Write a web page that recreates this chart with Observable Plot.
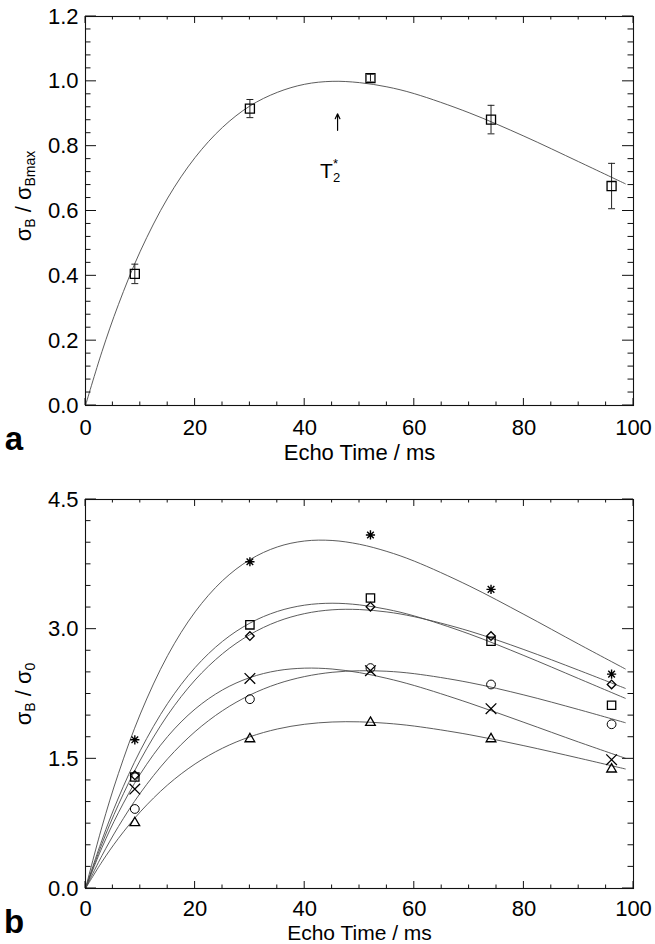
<!DOCTYPE html>
<html>
<head>
<meta charset="utf-8">
<script src="https://cdn.jsdelivr.net/npm/d3@7"></script>
<script src="https://cdn.jsdelivr.net/npm/@observablehq/plot@0.6"></script>
<style>
  html, body { margin: 0; padding: 0; background: white; }
  #chart svg { display: block; }
</style>
</head>
<body>
<div id="chart"></div>
<script>
// ---------- data ----------
const echoTimes = [9, 30, 52, 74, 96];

// panel a: normalised BOLD sigma with error bars
const aRatio = [0.406, 0.916, 1.010, 0.882, 0.677];
const aErr   = [0.030, 0.028, 0.012, 0.044, 0.070];

// fitted curves, sampled along echo time
const fitTE = [0, 3, 6, 10, 15, 20, 25, 30, 35, 40, 45, 50, 55, 60, 70, 80, 90, 98.5];
const aFit  = [0, 0.166, 0.311, 0.476, 0.640, 0.765, 0.858, 0.924, 0.966, 0.991, 1.000, 0.996, 0.983, 0.962, 0.903, 0.831, 0.752, 0.684];
const t2Star = 46;
const arrowSpan = [0.849, 0.900];

// panel b: six series
const bAsterisk = [1.72, 3.78, 4.09, 3.46, 2.48];
const bSquare   = [1.29, 3.05, 3.36, 2.86, 2.12];
const bDiamond  = [1.31, 2.92, 3.26, 2.92, 2.36];
const bTimes    = [1.15, 2.43, 2.52, 2.08, 1.49];
const bCircle   = [0.92, 2.19, 2.55, 2.36, 1.90];
const bTriangle = [0.76, 1.73, 1.92, 1.73, 1.38];

const fitAsterisk = [0, 0.713, 1.329, 2.019, 2.696, 3.200, 3.561, 3.804, 3.951, 4.020, 4.026, 3.982, 3.899, 3.787, 3.501, 3.171, 2.827, 2.540];
const fitSquare   = [0, 0.559, 1.047, 1.596, 2.142, 2.556, 2.859, 3.070, 3.205, 3.278, 3.300, 3.281, 3.230, 3.153, 2.945, 2.695, 2.428, 2.200];
const fitDiamond  = [0, 0.516, 0.969, 1.485, 2.007, 2.412, 2.716, 2.937, 3.088, 3.180, 3.224, 3.227, 3.199, 3.144, 2.979, 2.764, 2.525, 2.315];
const fitTimesC   = [0, 0.472, 0.876, 1.325, 1.759, 2.076, 2.297, 2.440, 2.520, 2.549, 2.539, 2.497, 2.431, 2.348, 2.146, 1.922, 1.694, 1.507];
const fitCircle   = [0, 0.380, 0.716, 1.104, 1.501, 1.815, 2.057, 2.238, 2.367, 2.452, 2.501, 2.519, 2.513, 2.485, 2.383, 2.239, 2.070, 1.918];
const fitTriangle = [0, 0.308, 0.579, 0.887, 1.199, 1.441, 1.623, 1.755, 1.845, 1.900, 1.926, 1.928, 1.911, 1.879, 1.780, 1.652, 1.509, 1.383];

// ticks
const xMajor = [0, 20, 40, 60, 80, 100];
const xMinor = d3.range(0, 101, 5);
const aYMajor = [0, 0.2, 0.4, 0.6, 0.8, 1.0, 1.2];
const aYMinor = d3.range(0, 1.2001, 0.04);
const bYMajor = [0, 1.5, 3.0, 4.5];
const bYMinor = d3.range(0, 4.5001, 0.25);

// ---------- helpers ----------
const FONT = "'Liberation Sans', Arial, Helvetica, sans-serif";
const rows = (xs, ys) => xs.map((t, i) => ({t, v: ys[i]}));
const capSymbol = {draw(ctx, size) { const w = Math.sqrt(size) / 2; ctx.moveTo(-w, 0); ctx.lineTo(w, 0); }};
// IDL-style asterisk: vertical, horizontal and two diagonals
const starSymbol = {draw(ctx, size) {
  const r = Math.sqrt(size / Math.PI), d = r * 0.72;
  ctx.moveTo(0, -r); ctx.lineTo(0, r);
  ctx.moveTo(-r, 0); ctx.lineTo(r, 0);
  ctx.moveTo(-d, -d); ctx.lineTo(d, d);
  ctx.moveTo(-d, d); ctx.lineTo(d, -d);
}};
const CURVE = {stroke: "#4a4a4a", strokeWidth: 0.9, curve: "catmull-rom"};

function frameMarks(yMajor, yFmt, xPad, xLabelDy, xLabelSize) {
  return [
    Plot.frame({stroke: "#111", strokeWidth: 1.1}),
    Plot.axisX(xMajor, {anchor: "bottom", tickSize: 0, tickPadding: xPad, label: null, fontSize: 22}),
    Plot.axisY(yMajor, {anchor: "left", tickSize: 0, tickPadding: 7, tickFormat: yFmt, label: null, fontSize: 22}),
    Plot.text(["Echo Time / ms"], {frameAnchor: "bottom", dy: xLabelDy, lineAnchor: "bottom", fontSize: xLabelSize})
  ];
}

// inward ticks on all four sides, placed with the plot's own scales
function drawTicks(plot, yMajor, yMinor) {
  const xs = plot.scale("x"), ys = plot.scale("y");
  const [xl, xr] = xs.range, [yb, yt] = ys.range;
  const g = d3.select(plot).append("g").attr("stroke", "#111").attr("stroke-width", 1).attr("fill", "none");
  const seg = (a, b, c, d) => g.append("line").attr("x1", a).attr("y1", b).attr("x2", c).attr("y2", d);
  const isMaj = (list, v) => list.some(m => Math.abs(m - v) < 1e-6);
  for (const v of xMinor) {
    const X = xs.apply(v), L = isMaj(xMajor, v) ? 7 : 3.5;
    seg(X, yb, X, yb - L);
    seg(X, yt, X, yt + L);
  }
  for (const v of yMinor) {
    const Y = ys.apply(v), L = isMaj(yMajor, v) ? 11 : 5.5;
    seg(xl, Y, xl + L, Y);
    seg(xr, Y, xr - L, Y);
  }
}

function addYLabel(svg, cy, sub2) {
  const t = d3.select(svg).append("text")
    .attr("transform", `translate(31,${cy}) rotate(-90)`)
    .attr("text-anchor", "middle")
    .attr("font-family", FONT)
    .attr("font-size", 22)
    .attr("fill", "black");
  t.append("tspan").text("σ");
  t.append("tspan").attr("font-size", 14).attr("dy", 4).text("B");
  t.append("tspan").attr("dy", -4).text(" / σ");
  t.append("tspan").attr("font-size", 14).attr("dy", 4).text(sub2);
}

function addLetter(svg, letter, y) {
  d3.select(svg).append("text")
    .attr("x", 14).attr("y", y)
    .attr("font-family", FONT).attr("font-weight", "bold").attr("font-size", 33)
    .attr("fill", "black").text(letter);
}

// ---------- panel a ----------
const aPoints = rows(echoTimes, aRatio).map((d, i) => ({...d, e: aErr[i]}));
const plotA = Plot.plot({
  width: 655, height: 470,
  marginTop: 16, marginBottom: 65, marginLeft: 85, marginRight: 22,
  style: {fontFamily: FONT, fontSize: "22px", background: "white", color: "black"},
  x: {domain: [0, 100]},
  y: {domain: [0, 1.2]},
  marks: [
    Plot.line(rows(fitTE, aFit), {x: "t", y: "v", ...CURVE}),
    Plot.ruleX(aPoints, {x: "t", y1: d => d.v - d.e, y2: d => d.v + d.e, stroke: "#222", strokeWidth: 1}),
    Plot.dot(aPoints, {x: "t", y: d => d.v - d.e, symbol: capSymbol, r: 3.9, stroke: "#222", strokeWidth: 1, fill: "none"}),
    Plot.dot(aPoints, {x: "t", y: d => d.v + d.e, symbol: capSymbol, r: 3.9, stroke: "#222", strokeWidth: 1, fill: "none"}),
    Plot.dot(aPoints, {x: "t", y: "v", symbol: "square", r: 5.1, stroke: "black", strokeWidth: 1.3, fill: "none"}),
    Plot.arrow([t2Star], {x1: d => d, x2: d => d, y1: () => arrowSpan[0], y2: () => arrowSpan[1],
                          stroke: "black", strokeWidth: 1.2, headLength: 7, headAngle: 50}),
    ...frameMarks(aYMajor, d3.format(".1f"), 14, 54, 22)
  ]
});

// ---------- panel b ----------
const series = [
  {pts: bAsterisk, fit: fitAsterisk, symbol: starSymbol, r: 4.6, sw: 1.4},
  {pts: bSquare,   fit: fitSquare,   symbol: "square",   r: 4.7, sw: 1.3},
  {pts: bDiamond,  fit: fitDiamond,  symbol: "diamond2", r: 3.9, sw: 1.3},
  {pts: bTimes,    fit: fitTimesC,   symbol: "times",    r: 4.9, sw: 1.3},
  {pts: bCircle,   fit: fitCircle,   symbol: "circle",   r: 4.4, sw: 1.0},
  {pts: bTriangle, fit: fitTriangle, symbol: "triangle", r: 3.6, sw: 1.3}
];
const plotB = Plot.plot({
  width: 655, height: 474,
  marginTop: 29, marginBottom: 56, marginLeft: 85, marginRight: 22,
  style: {fontFamily: FONT, fontSize: "22px", background: "white", color: "black"},
  x: {domain: [0, 100]},
  y: {domain: [0, 4.5]},
  marks: [
    ...series.map(s => Plot.line(rows(fitTE, s.fit), {x: "t", y: "v", ...CURVE})),
    ...series.map(s => Plot.dot(rows(echoTimes, s.pts), {x: "t", y: "v", symbol: s.symbol, r: s.r, stroke: "black", strokeWidth: s.sw, fill: "none"})),
    ...frameMarks(bYMajor, d3.format(".1f"), 12, 51.5, 21)
  ]
});

const chart = document.getElementById("chart");
chart.appendChild(plotA);
chart.appendChild(plotB);

drawTicks(plotA, aYMajor, aYMinor);
drawTicks(plotB, bYMajor, bYMinor);

// decorations needing sub/superscripts
addYLabel(plotA, 196, "Bmax");
addYLabel(plotB, 224, "0");
addLetter(plotA, "a", 450);
addLetter(plotB, "b", 463);

// T2* annotation under the arrow
{
  const xs = plotA.scale("x"), ys = plotA.scale("y");
  const t = d3.select(plotA).append("text")
    .attr("x", xs.apply(t2Star) - 7).attr("y", ys.apply(0.70))
    .attr("font-family", FONT).attr("font-size", 21).attr("fill", "black");
  t.append("tspan").text("T");
  t.append("tspan").attr("font-size", 13).attr("dy", 4).text("2");
  t.append("tspan").attr("font-size", 13).attr("dx", -7).attr("dy", -14).text("*");
}
</script>
</body>
</html>
